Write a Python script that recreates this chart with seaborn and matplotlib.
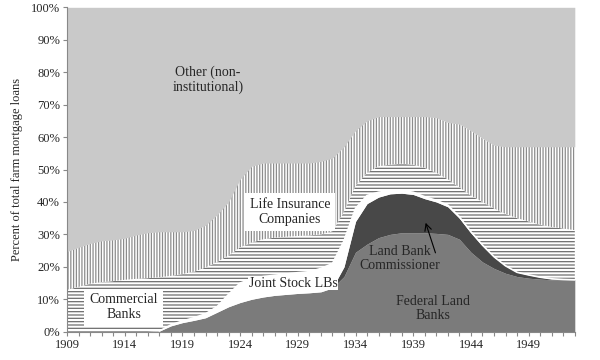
import numpy as np
import pandas as pd
import matplotlib
matplotlib.use("Agg")
import matplotlib.pyplot as plt
import seaborn as sns

# shares of total farm mortgage loans (%)
years = list(range(1909, 1954))

federal_land_banks = [0, 0, 0, 0, 0, 0, 0, 0, 0.2, 1.8, 2.8, 3.5, 4.3, 6.0, 7.7,
                      9.0, 10.0, 10.7, 11.2, 11.5, 11.8, 12.0, 12.3, 13.5, 17.0,
                      24.5, 27.0, 29.0, 30.0, 30.5, 30.5, 30.5, 30.3, 30.0, 28.5,
                      24.5, 21.5, 19.5, 18.0, 17.0, 16.5, 16.2, 16.0, 16.0, 16.0]

land_bank_commissioner = [0] * 24 + [3.0, 9.5, 12.5, 12.5, 12.5, 12.2, 11.8, 10.5,
                                     9.7, 8.5, 6.5, 6.0, 5.0, 3.5, 2.3, 1.3, 1.0,
                                     0.6, 0.3, 0.1, 0.0]

joint_stock_lbs = [0] * 9 + [0.3, 0.5, 0.8, 1.2, 1.7, 3.8, 6.0, 6.3, 6.3, 6.2, 6.3,
                             6.4, 6.5, 7.2, 7.5, 8.0, 4.0, 2.5, 1.5, 1.0, 0.8, 0.7,
                             0.6, 0.5, 0.5, 0.4, 0.3, 0.2, 0.1] + [0] * 7

commercial_banks = [12.9, 13.8, 14.8, 15.3, 15.6, 16.0, 16.3, 16.5, 16.6, 15.1, 14.5,
                    14.2, 14.3, 13.8, 12.0, 11.0, 11.2, 11.5, 11.6, 11.5, 11.3, 11.2,
                    10.5, 10.0, 9.0, 7.0, 7.0, 8.0, 8.0, 8.3, 8.5, 8.9, 8.5, 8.0,
                    9.1, 11.2, 13.3, 14.9, 16.0, 16.7, 16.5, 16.2, 16.0, 15.7, 15.3]

life_insurance = [11.8, 12.2, 12.4, 12.7, 12.7, 12.8, 13.5, 14.0, 14.0, 13.6, 13.0,
                  12.7, 13.0, 14.5, 16.5, 21.0, 23.5, 23.5, 23.0, 22.7, 22.5, 22.3,
                  22.5, 22.5, 20.0, 17.0, 16.0, 15.3, 14.8, 14.5, 14.8, 15.8, 17.0,
                  17.5, 19.5, 20.0, 19.6, 19.5, 20.7, 22.0, 23.0, 24.0, 24.7, 25.2, 25.7]

df = pd.DataFrame({
    "year": years,
    "Federal Land Banks": federal_land_banks,
    "Land Bank Commissioner": land_bank_commissioner,
    "Joint Stock LBs": joint_stock_lbs,
    "Commercial Banks": commercial_banks,
    "Life Insurance": life_insurance,
})
layers = ["Federal Land Banks", "Land Bank Commissioner", "Joint Stock LBs",
          "Commercial Banks", "Life Insurance"]
df["Other"] = 100 - df[layers].sum(axis=1)
layers.append("Other")

sns.set_theme(style="ticks")
plt.rcParams["font.family"] = ["Liberation Serif", "DejaVu Serif"]
plt.rcParams["hatch.linewidth"] = 0.9

fig = plt.figure(figsize=(6, 3.6), dpi=100)
ax = fig.add_axes([0.1117, 0.0786, 0.8463, 0.9011])

fills = ["#7b7b7b", "#484848", "white", "white", "white", "#c9c9c9"]
polys = ax.stackplot(df["year"], *[df[c] for c in layers], colors=fills,
                     linewidth=0)

# stripes for banks and insurance
hatches = {3: ("-----", "#6e6e6e"), 4: ("||||||", "#8c8c8c")}
for i, (h, hc) in hatches.items():
    polys[i].set_hatch(h)
    polys[i].set_edgecolor(hc)
    polys[i].set_linewidth(0)

# white seam along the top of the federal agencies
fed = df[df["year"] >= 1917]
tops = fed[layers[:3]].sum(axis=1)
sns.lineplot(x=fed["year"], y=tops, ax=ax, color="white", linewidth=1.2)

ax.set_xlim(1909, 1953)
ax.set_ylim(0, 100)
ax.set_xticks(range(1909, 1950, 5))
ax.set_xticks(range(1909, 1954), minor=True)
ax.set_yticks(range(0, 101, 10))
ax.set_yticklabels([f"{v}%" for v in range(0, 101, 10)])
ax.tick_params(axis="both", which="both", length=3, width=0.8, color="#888888",
               labelsize=9, pad=2)
ax.set_xlabel("")
ax.set_ylabel("Percent of total farm mortgage loans", fontsize=9, labelpad=6)
sns.despine(ax=ax)
for s in ["left", "bottom"]:
    ax.spines[s].set_color("#888888")
    ax.spines[s].set_linewidth(0.8)

box = dict(facecolor="white", edgecolor="none", pad=3.5)
ax.text(1921.2, 77.6, "Other (non-\ninstitutional)", ha="center", va="center",
        fontsize=10, linespacing=1.1)
ax.text(1928.3, 37, "Life Insurance\nCompanies", ha="center", va="center",
        fontsize=10, linespacing=1.2, bbox=box)
ax.text(1913.9, 7.5, "Commercial\nBanks", ha="center", va="center",
        fontsize=10, linespacing=1.2, bbox=box)
ax.text(1928.6, 15, "Joint Stock LBs", ha="center", va="center", fontsize=10,
        bbox=dict(facecolor="white", edgecolor="none", pad=0.5))
ax.text(1937.8, 22.7, "Land Bank\nCommissioner", ha="center", va="center",
        fontsize=10, linespacing=1.1)
ax.text(1940.7, 7, "Federal Land\nBanks", ha="center", va="center",
        fontsize=10, linespacing=1.1)
ax.annotate("", xy=(1940.0, 34.4), xytext=(1941.0, 23.5),
            arrowprops=dict(arrowstyle="->", color="black", lw=0.8))

fig.savefig("out.png", dpi=100)
